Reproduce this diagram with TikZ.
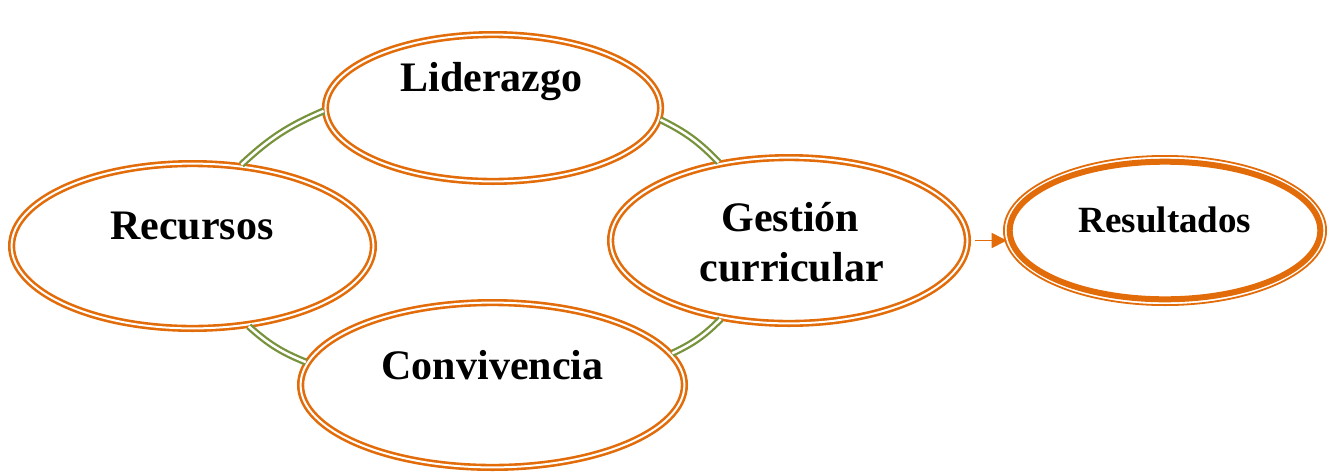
\documentclass[tikz,border=0pt]{standalone}
\usepackage{fontspec}
\setmainfont{Liberation Serif}
\usetikzlibrary{shapes.geometric,arrows.meta}
\definecolor{orng}{RGB}{227,108,10}
\definecolor{olv}{RGB}{119,147,60}
\begin{document}
\begin{tikzpicture}[x=1pt,y=-1pt,
  oval/.style={ellipse, draw=orng, double=white, double distance=2pt, line width=2.6pt, inner sep=0pt, outer sep=2pt},
  lbl/.style={font=\bfseries\fontsize{42}{50}\selectfont, anchor=base, inner sep=0pt},
  lblsmall/.style={font=\bfseries\fontsize{37}{44}\selectfont, anchor=base, inner sep=0pt},
  link/.style={draw=olv, double=white, double distance=2.5pt, line width=2.3pt}]
\useasboundingbox (0,0) rectangle (1338,472);
% ellipses
\node[oval, minimum width=335.1pt, minimum height=146.8pt] (lid) at (493,108) {};
\node[oval, minimum width=361.8pt, minimum height=164.8pt] (rec) at (192.5,246) {};
\node[oval, minimum width=356.8pt, minimum height=165.8pt] (gest) at (789,240.5) {};
\node[oval, minimum width=383.8pt, minimum height=164.8pt] (conv) at (492.5,385) {};
\node[ellipse, draw=orng, line width=6pt, inner sep=0pt, minimum width=310.6pt, minimum height=137.6pt] (res) at (1165,230.5) {};
\draw[orng, line width=1.8pt] (res.center) ellipse [x radius=161.1pt, y radius=74.6pt];
% labels
\node[lbl] (lidT) at (491.5,91) {Liderazgo};
\node[lbl] (recT) at (192,239) {Recursos};
\node[lbl] (gestT1) at (790.5,231) {Gestión};
\node[lbl] (gestT2) at (791.5,281) {curricular};
\node[lbl] (convT) at (492.5,379) {Convivencia};
\node[lblsmall] (resT) at (1165,232) {Resultados};
% green links
\draw[link] (rec.59) to[bend left=10] (lid.181.7);
\draw[link] (lid.-4.9) to[bend left=10] (gest.132.5);
\draw[link] (rec.-55.9) to[bend right=10] (conv.173.3);
\draw[link] (conv.10) to[bend right=10] (gest.229);
% arrow
\draw[orng, line width=1.8pt, shorten <=6pt, -{Triangle[length=15pt,width=15pt]}] (gest.east) -- (gest.east -| res.west);
\end{tikzpicture}
\end{document}
